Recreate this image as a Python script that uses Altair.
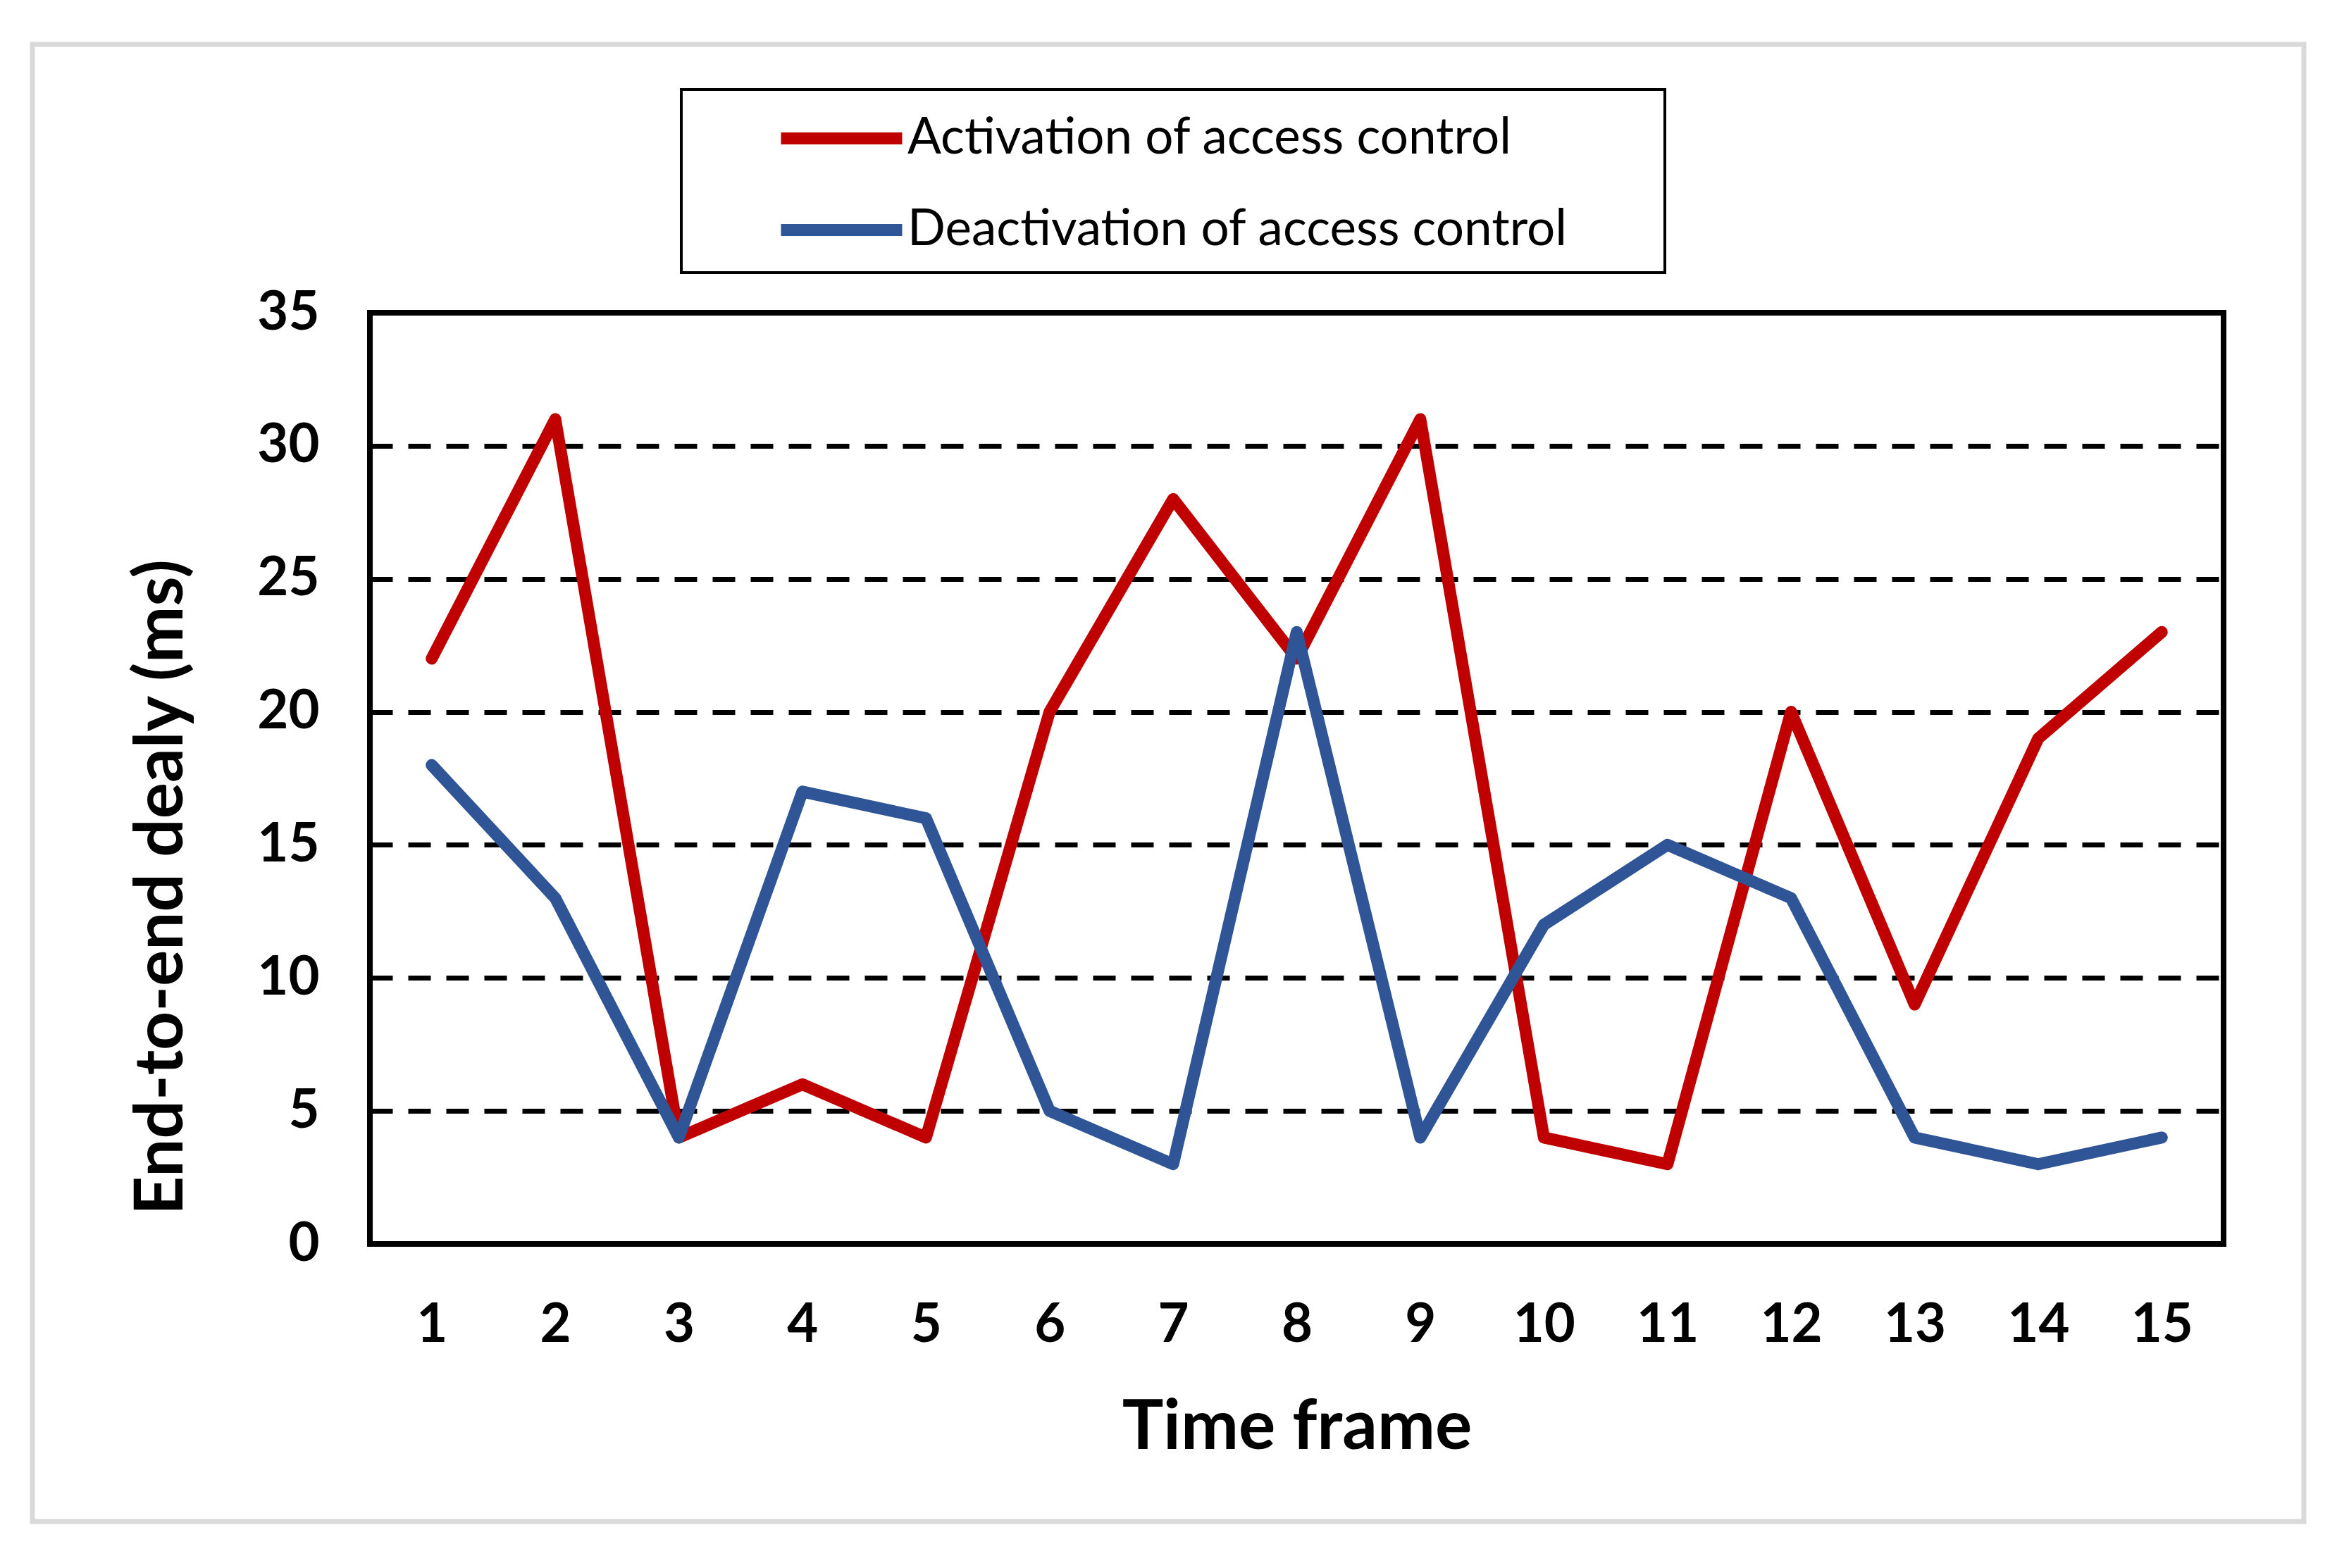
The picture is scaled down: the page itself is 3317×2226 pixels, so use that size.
import altair as alt
import pandas as pd

time_frames = list(range(1, 16))
activation = [22, 31, 4, 6, 4, 20, 28, 22, 31, 4, 3, 20, 9, 19, 23]
deactivation = [18, 13, 4, 17, 16, 5, 3, 23, 4, 12, 15, 13, 4, 3, 4]
series_names = ["Activation of access control", "Deactivation of access control"]
series_colors = ["#C00000", "#2F5597"]

rows = []
for t, a in zip(time_frames, activation):
    rows.append({"t": t, "v": a, "s": series_names[0]})
for t, d in zip(time_frames, deactivation):
    rows.append({"t": t, "v": d, "s": series_names[1]})
df = pd.DataFrame(rows)

W, H = 2631, 1322
FONT = "Lato"

lines = alt.Chart(df).mark_line(strokeWidth=17, strokeCap="round", strokeJoin="round").encode(
    x=alt.X("t:O", scale=alt.Scale(type="point", padding=0.5),
            axis=alt.Axis(title="Time frame", labelAngle=0, ticks=False, domain=False,
                          labelFont=FONT, labelFontSize=76, labelFontWeight="bold",
                          labelColor="black", labelPadding=78,
                          titleFont=FONT, titleFontSize=98, titleFontWeight="bold",
                          titleColor="black", titleBaseline="alphabetic",
                          titleX=W / 2, titleY=290, titleAlign="center", titleAnchor="middle")),
    y=alt.Y("v:Q", scale=alt.Scale(domain=[0, 35]),
            axis=alt.Axis(title="End-to-end dealy (ms)", values=[0, 5, 10, 15, 20, 25, 30, 35],
                          ticks=False, domain=False,
                          labelFont=FONT, labelFontSize=76, labelFontWeight="bold",
                          labelColor="black", labelPadding=72,
                          grid=True, gridColor="black", gridWidth=7, gridDash=[32, 22],
                          titleFont=FONT, titleFontSize=96, titleFontWeight="bold",
                          titleColor="black", titleBaseline="alphabetic", titleAngle=-90,
                          titleX=-267, titleY=815, titleAlign="center", titleAnchor="middle")),
    color=alt.Color("s:N", scale=alt.Scale(domain=series_names, range=series_colors),
                    legend=alt.Legend(title=None, orient="none", legendX=692, legendY=-283,
                                      symbolType="M-7.2,0H1.4", symbolSize=1600,
                                      symbolStrokeWidth=17, labelFont=FONT, labelFontSize=71,
                                      labelColor="black", labelOffset=0, rowPadding=58,
                                      padding=0, labelLimit=2000)),
)

frame_df = pd.DataFrame({"k": [0]})
outer = alt.Chart(frame_df).mark_rect(fill="white", fillOpacity=0, stroke="#d9d9d9", strokeWidth=7).encode(
    x=alt.value(-479), x2=alt.value(2745), y=alt.value(-381), y2=alt.value(1716)
)
legend_box = alt.Chart(frame_df).mark_rect(fill="white", fillOpacity=0, stroke="black", strokeWidth=4).encode(
    x=alt.value(442), x2=alt.value(1838), y=alt.value(-317), y2=alt.value(-57)
)

chart = alt.layer(outer, legend_box, lines).properties(
    width=W, height=H,
    autosize=alt.AutoSizeParams(type="none"),
    padding={"left": 517, "top": 436, "right": 140, "bottom": 440},
    background="white",
).configure_view(stroke="black", strokeWidth=8)

chart.save("out.html", embed_options={"renderer": "svg", "actions": False})
